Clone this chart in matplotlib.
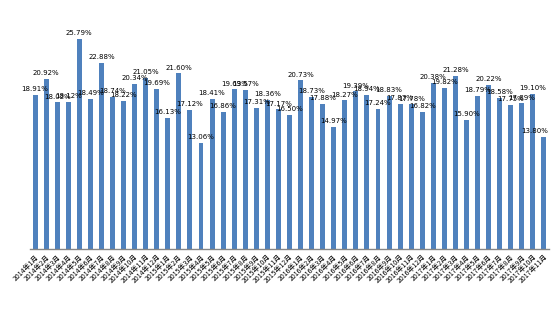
import matplotlib
matplotlib.use("Agg")
import matplotlib.pyplot as plt
import numpy as np

plt.rcParams['font.family'] = ['Noto Sans CJK SC', 'DejaVu Sans']

# === Daten ===
months = [f"{y}年{m}月" for y in (2014, 2015, 2016, 2017) for m in range(1, 13)][:47]
values = [18.91, 20.92, 18.02, 18.12, 25.79, 18.49, 22.88, 18.74, 18.22, 20.34,
          21.05, 19.69, 16.13, 21.60, 17.12, 13.06, 18.41, 16.86, 19.63, 19.57,
          17.31, 18.36, 17.17, 16.50, 20.73, 18.73, 17.88, 14.97, 18.27, 19.39,
          18.94, 17.24, 18.83, 17.87, 17.78, 16.82, 20.38, 19.82, 21.28, 15.90,
          18.79, 20.22, 18.58, 17.75, 17.89, 19.10, 13.80]

fig = plt.figure(figsize=(5.54, 3.14), dpi=100)
ax = fig.add_axes([29.5 / 554, 1 - 249 / 314, 520 / 554, 244 / 314])

x = np.arange(len(values))
ax.bar(x, values, width=0.45, color='#4F81BD')

for xi, v in zip(x, values):
    last = xi == len(values) - 1
    ax.annotate(f"{v:.2f}%", (xi, v), xytext=(3 if last else 0, 2),
                textcoords='offset points', ha='right' if last else 'center',
                va='bottom', fontsize=5, color='black', family=['DejaVu Sans'])

ax.set_xlim(-0.5, len(values) - 0.5)
ax.set_ylim(0, 30)
ax.set_yticks([])
ax.set_xticks(x)
ax.set_xticklabels(months, rotation=45, ha='right', rotation_mode='anchor', fontsize=5)
ax.tick_params(axis='x', length=0, pad=3)

for s in ('top', 'right', 'left'):
    ax.spines[s].set_visible(False)
ax.spines['bottom'].set_color('#868686')
ax.spines['bottom'].set_linewidth(1.0)

fig.savefig('out.png', dpi=100)
